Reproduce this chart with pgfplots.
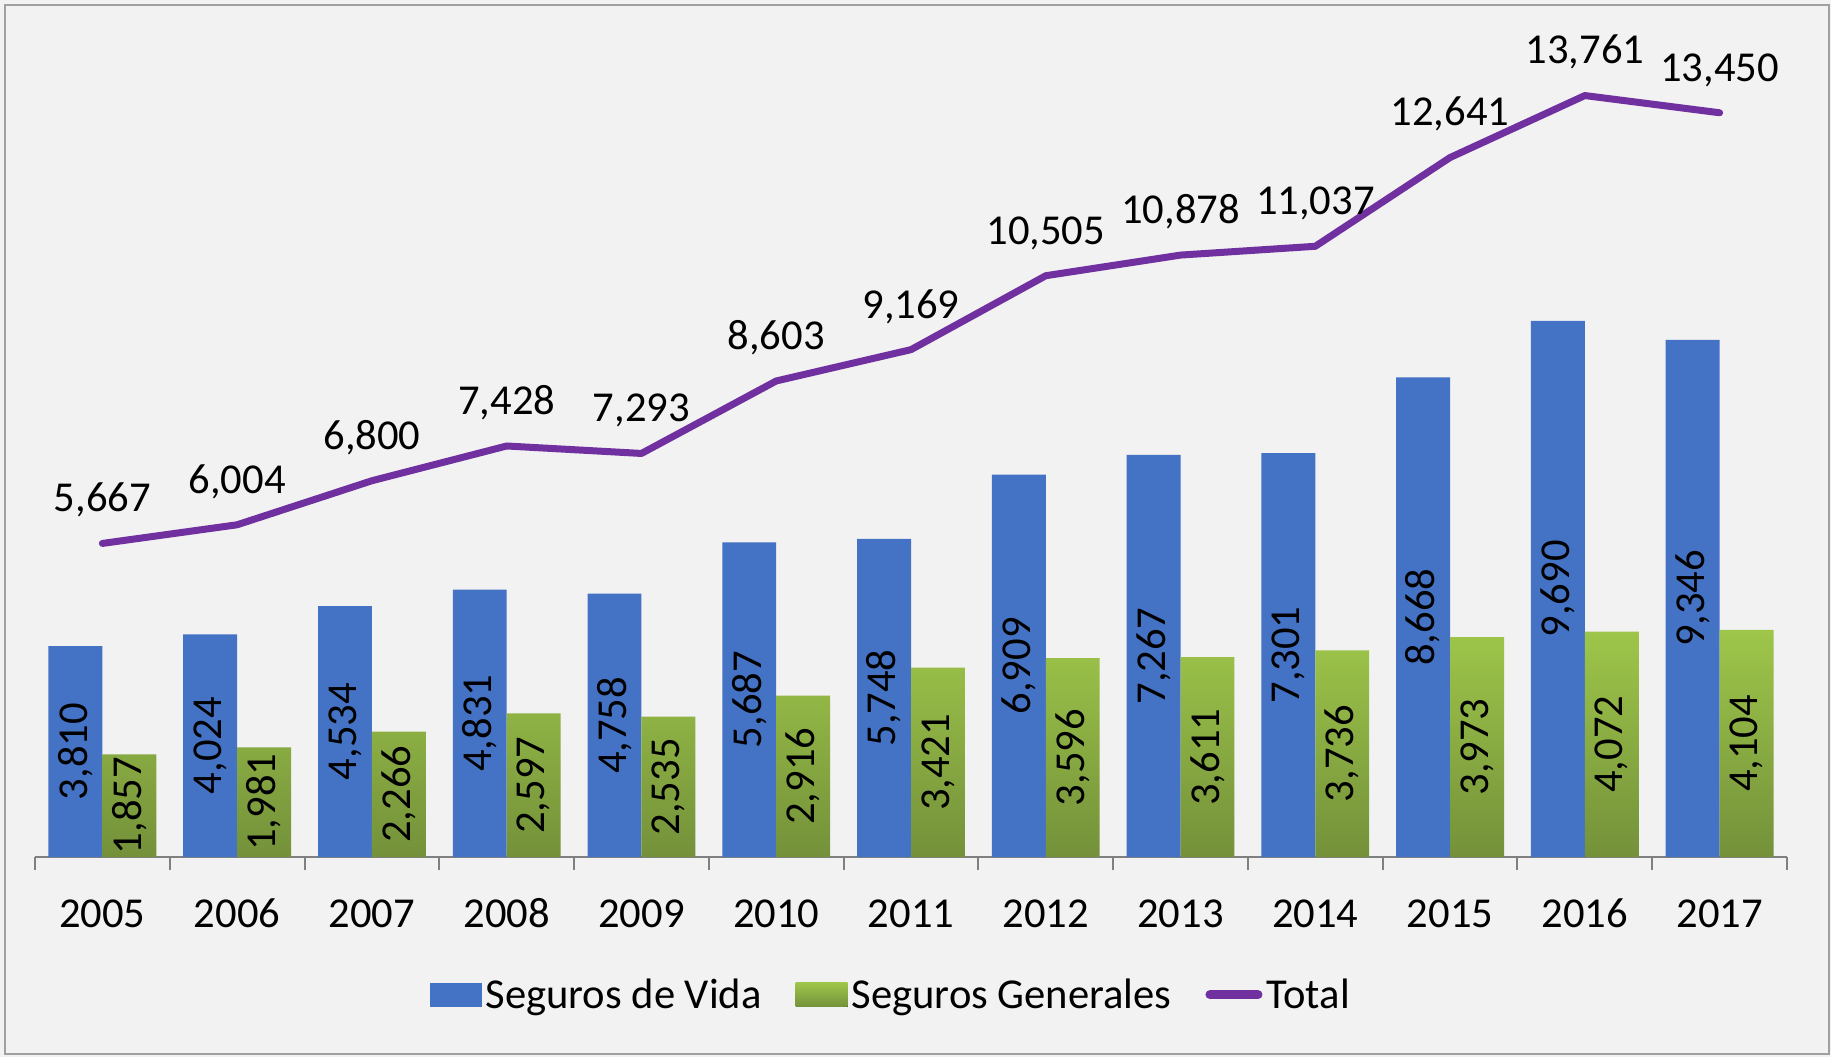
\documentclass[border=0pt]{standalone}
\usepackage{pgfplots}
\usepackage{pgfplotstable}
\pgfplotsset{compat=1.18}
\usepackage{fontspec}
\setmainfont{Carlito}
\definecolor{bg}{HTML}{F2F2F2}
\definecolor{vida}{HTML}{4472C4}
\definecolor{gtop}{HTML}{9EC64A}
\definecolor{gbot}{HTML}{74913A}
\definecolor{tot}{HTML}{7030A0}
\definecolor{frame}{HTML}{A0A0A0}
\newcommand{\lf}{\fontsize{21.3pt}{25pt}\selectfont}
\pgfplotstableread{
yr vida gen total
2005 3810 1857 5667
2006 4024 1981 6004
2007 4534 2266 6800
2008 4831 2597 7428
2009 4758 2535 7293
2010 5687 2916 8603
2011 5748 3421 9169
2012 6909 3596 10505
2013 7267 3611 10878
2014 7301 3736 11037
2015 8668 3973 12641
2016 9690 4072 13761
2017 9346 4104 13450
}\data
\begin{document}
\begin{tikzpicture}
\fill[bg] (0pt,0pt) rectangle (915.5pt,528.5pt);
\draw[frame, line width=0.8pt] (2.5pt,1.5pt) rectangle (914.5pt,526pt);
\begin{axis}[
  at={(17.5pt,100pt)}, anchor=south west,
  scale only axis, width=876pt, height=415pt,
  xmin=-0.5, xmax=12.5, ymin=0, ymax=15000,
  axis x line*=bottom, axis y line=none,
  x axis line style={-, draw=gray, line width=1pt},
  xtick={0,...,12}, xticklabels from table={\data}{yr},
  major tick length=0pt,
  minor xtick={-0.5,0.5,...,12.5},
  minor tick length=6.7pt, tick align=outside,
  minor tick style={gray, line width=1pt},
  xticklabel style={font=\lf, anchor=base, yshift=-35pt},
  clip=false,
  /pgf/number format/.cd, fixed, precision=0, 1000 sep={,}, assume math mode=true, /pgfplots/.cd,
  legend style={draw=none, fill=none, at={(0.489,-0.166)}, anchor=center,
    legend columns=3, font=\lf, nodes={inner xsep=2pt, inner ysep=1pt},
    /tikz/every even column/.append style={column sep=15pt}},
  legend cell align=left,
]
\addplot[ybar, bar width=0.4, bar shift=-0.2, fill=vida, draw=none,
  legend image code/.code={\fill[vida] (0pt,-6pt) rectangle (26pt,6pt);}]
  table[x expr=\coordindex, y=vida] {\data};
\addlegendentry{Seguros de Vida}
\addplot[ybar, bar width=0.4, bar shift=0.2, draw=none, top color=gtop, bottom color=gbot,
  legend image code/.code={\fill[top color=gtop, bottom color=gbot, draw=none] (0pt,-6pt) rectangle (26pt,6pt);}]
  table[x expr=\coordindex, y=gen] {\data};
\addlegendentry{Seguros Generales}
\addplot[color=tot, line width=3.5pt, line join=round, line cap=round, mark=none,
  nodes near coords, point meta=explicit,
  nodes near coords style={anchor=south, yshift=8pt, font=\lf, text=black},
  legend image code/.code={\draw[tot, line width=4.5pt, line cap=round] (2pt,0pt) -- (26pt,0pt);}]
  table[x expr=\coordindex, y=total, meta=total] {\data};
\addlegendentry{Total}
\addplot[draw=none, mark=none, forget plot, nodes near coords, point meta=explicit,
  nodes near coords style={anchor=center, rotate=90, font=\lf, text=black}]
  table[x expr=\coordindex-0.2, y expr=\thisrow{vida}/2, meta=vida] {\data};
\addplot[draw=none, mark=none, forget plot, nodes near coords, point meta=explicit,
  nodes near coords style={anchor=center, rotate=90, font=\lf, text=black}]
  table[x expr=\coordindex+0.2, y expr=\thisrow{gen}/2, meta=gen] {\data};
\end{axis}
\end{tikzpicture}
\end{document}
